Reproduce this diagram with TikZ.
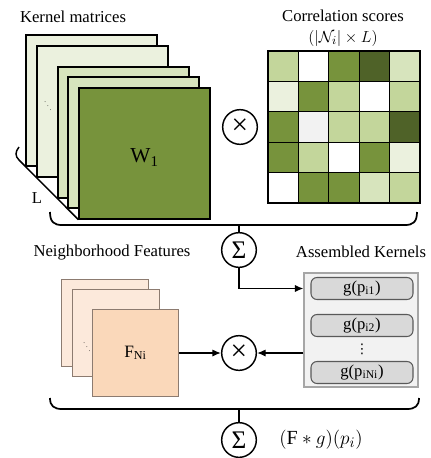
\documentclass[tikz,border=0pt]{standalone}
\usepackage{fontspec}
\setmainfont{Liberation Serif}
\newfontfamily\dotsfont{DejaVu Sans}
\usetikzlibrary{arrows.meta,calc}

\definecolor{krnlLight}{HTML}{EBF1DE}
\definecolor{krnlMid}{HTML}{D7E4BD}
\definecolor{krnlFront}{HTML}{77933C}
\definecolor{corrLight}{HTML}{C3D69B}
\definecolor{corrDark}{HTML}{4F6228}
\definecolor{corrGrey}{HTML}{F2F2F2}
\definecolor{featBack}{HTML}{FCE9DB}
\definecolor{featFront}{HTML}{FAD8BA}
\definecolor{featLine}{HTML}{8C7B70}
\definecolor{asmFill}{HTML}{F2F2F2}
\definecolor{asmLine}{HTML}{A6A6A6}
\definecolor{slotFill}{HTML}{D9D9D9}

\tikzset{
  sheet/.style={draw, line width=1.2pt, minimum size=98pt, inner sep=0pt},
  cell/.style={draw, line width=0.8pt, minimum size=22.8pt, inner sep=0pt},
  fsheet/.style={draw=featLine, line width=0.8pt, minimum size=65pt, inner sep=0pt},
  slot/.style={draw=black!65, fill=slotFill, line width=0.8pt, rounded corners=4.5pt,
    minimum width=76.5pt, minimum height=16.5pt, inner sep=0pt},
  op/.style={draw, circle, line width=1.1pt, minimum size=26pt, inner sep=0pt},
  lbl/.style={inner sep=0pt},
  brace/.style={line width=1.3pt},
  link/.style={line width=1.1pt, -{Latex[length=6.5pt,width=5.5pt]}}
}

\begin{document}
\begin{tikzpicture}[x=0.75pt, y=-0.75pt, font=\fontsize{12.5}{14}\selectfont]
  \useasboundingbox (0,0) rectangle (431,458);

  %% kernel matrices
  \node [lbl] (krnl_title) at (73,17) {Kernel matrices};
  \coordinate (krnl_c) at (144.5,153.5);
  \foreach \a/\d/\c in {1/53/krnlLight,2/42/krnlLight,3/21/krnlMid,4/11/krnlMid} {
    \node [sheet, fill=\c, name=krnl_\a] at ($(krnl_c)-(\d,\d)$) {};
  }
  \node [sheet, fill=krnlFront] (krnl_5) at (krnl_c) {};
  \node [lbl, font=\fontsize{16}{16}\selectfont] (krnl_w) at ($(krnl_c)+(0,4)$) {W\textsubscript{1}};
  \node [lbl, font=\tiny] (krnl_dots) at (48,102) {$\ddots$};
  \draw [line width=1.1pt] (19,147) .. controls (15,152) and (15,156) .. (19,160) -- (krnl_5.south west);
  \node [lbl] (krnl_L) at (37,198) {L};

  %% correlation scores
  \node [lbl] (corr_title) at (343,16) {Correlation scores};
  \node [lbl] (corr_dims) at (343,38) {$(|\mathcal{N}_i|\times L)$};
  \foreach \row [count=\r] in {{corrLight,white,krnlFront,corrDark,krnlMid},
                               {krnlLight,krnlFront,corrLight,white,corrLight},
                               {krnlFront,corrGrey,corrLight,corrLight,corrDark},
                               {krnlFront,corrLight,white,krnlFront,krnlLight},
                               {white,krnlFront,krnlFront,krnlMid,corrLight}} {
    \foreach \c [count=\k] in \row {
      \node [cell, fill=\c, name=corr_\r_\k] at (268+30.4*\k-15.2, 51+30.4*\r-15.2) {};
    }
  }
  \node [op] (times_top) at (240,127) {\fontsize{22}{22}\selectfont ×};

  %% first sum
  \draw [brace] (50,212) .. controls (50,222) and (54,225) .. (62,225) -- (405,225)
    .. controls (413,225) and (417,222) .. (417,212);
  \coordinate (top_tick) at (239,225);
  \node [op] (sum_mid) at (239,250) {\fontsize{19}{19}\selectfont Σ};
  \draw [line width=1.1pt] (top_tick) -- (sum_mid);

  %% neighborhood features
  \node [lbl] (feat_title) at (112,253) {Neighborhood Features};
  \coordinate (feat_c) at (135.5,353);
  \foreach \a/\dx/\dy in {1/30.5/30,2/19.5/20} {
    \node [fsheet, fill=featBack, name=feat_\a] at ($(feat_c)-(\dx,\dy)$) {};
  }
  \node [fsheet, fill=featFront] (feat_3) at (feat_c) {};
  \node [lbl, font=\fontsize{13}{13}\selectfont] (feat_f) at (feat_c) {F\textsubscript{Ni}};
  \node [lbl, font=\tiny] (feat_dots) at (87,343) {$\ddots$};

  %% assembled kernels
  \node [lbl] (asm_title) at (361,252) {Assembled Kernels};
  \node [draw=asmLine, fill=asmFill, line width=0.8pt, minimum size=85.5pt, inner sep=0pt] (asm_box) at (361,330) {};
  \node [slot] (slot_1) at (362,288.5) {g(p\textsubscript{i1})};
  \node [slot] (slot_2) at (362,325.5) {g(p\textsubscript{i2})};
  \node [slot] (slot_3) at (362,372.5) {g(p\textsubscript{iNi})};
  \node [lbl, font=\dotsfont\fontsize{10}{10}\selectfont] (slot_dots) at (362,349.5) {⋮};

  \node [op] (times_mid) at (239,353) {\fontsize{22}{22}\selectfont ×};
  \draw [link] (sum_mid) |- (slot_1 -| asm_box.west);
  \draw [link] (asm_box.west |- times_mid) -- (times_mid);
  \draw [link] (feat_3.east |- times_mid) -- (times_mid);

  %% second sum
  \draw [brace] (50,398) .. controls (50,406) and (54,409) .. (62,409) -- (407,409)
    .. controls (415,409) and (419,406) .. (419,398);
  \coordinate (bot_tick) at (239,409);
  \node [op] (sum_bot) at (239,440) {\fontsize{19}{19}\selectfont Σ};
  \draw [line width=1.1pt] (bot_tick) -- (sum_bot);
  \node [lbl, font=\fontsize{15}{15}\selectfont] (result) at (321,440) {$(\mathrm{F}*g)(p_i)$};

\end{tikzpicture}
\end{document}
